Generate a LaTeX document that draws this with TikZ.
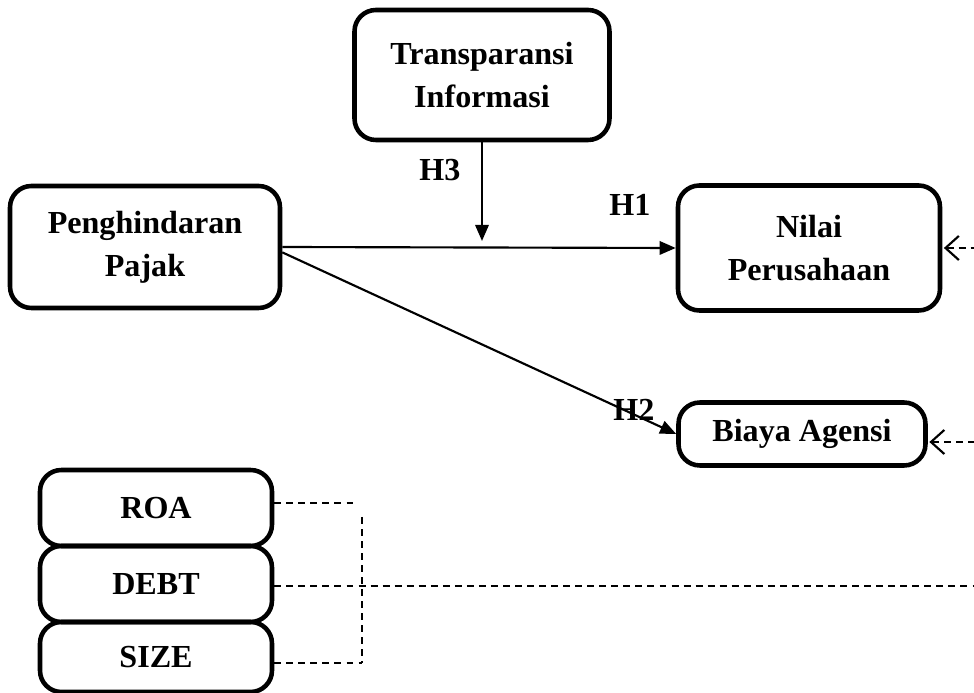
\documentclass[tikz,border=0pt]{standalone}
\usepackage{fontspec}
\setmainfont{Liberation Serif}
\usetikzlibrary{positioning, arrows.meta}

\begin{document}
\begin{tikzpicture}[
    x=0.01314cm, y=-0.01314cm,
    varbox/.style={
        draw,
        line width=1.7pt,
        rounded corners=8pt,
        font=\bfseries\fontsize{12}{16}\selectfont,
        align=center,
        minimum width=#1
    },
    varbox/.default=100,
    hlbl/.style={font=\bfseries\fontsize{12}{14}\selectfont, inner sep=1pt},
    path/.style={-{Triangle[length=6pt, width=5pt]}, line width=0.8pt},
    ctrl/.style={dash pattern=on 2.6pt off 1.9pt, line width=0.7pt},
    barb/.style={{Straight Barb[length=5pt, width=9pt, line width=0.8pt]}-}
]
\useasboundingbox (0,0) rectangle (974,693);

% === Variables ===
\node[varbox, minimum width=255*0.01314cm, minimum height=130*0.01314cm] (ti) at (482,75) {Transparansi\\Informasi};
\node[varbox, minimum width=270*0.01314cm, minimum height=122*0.01314cm] (pp) at (145,247) {Penghindaran\\Pajak};
\node[varbox, minimum width=262*0.01314cm, minimum height=125*0.01314cm] (np) at (809,248) {Nilai\\Perusahaan};
\node[varbox, minimum width=247*0.01314cm, minimum height=63*0.01314cm] (ba) at (802,434) {Biaya Agensi};

% === Controls ===
\node[varbox, minimum width=232*0.01314cm, minimum height=76*0.01314cm] (roa) at (156,508) {ROA};
\node[varbox, minimum width=232*0.01314cm, minimum height=76*0.01314cm, below=-1.7pt of roa] (debt) {DEBT};
\node[varbox, minimum width=232*0.01314cm, minimum height=70*0.01314cm, below=-1.7pt of debt] (size) {SIZE};

% === Hypotheses ===
\coordinate (mod) at (482,241);
\draw[path] (pp.east) -- (np.west);
\draw[path] (ti.south) -- (mod);
\draw[path] ([yshift=-2pt]pp.east) -- (ba.west);
\node[hlbl] at (440,170) {H3};
\node[hlbl] at (630,205) {H1};
\node[hlbl] at (634,410) {H2};

% === Control links ===
\coordinate (jr) at (362,503);
\coordinate (js) at (362,663);
\coordinate (edge1) at (974,248);
\coordinate (edge2) at (974,442);
\coordinate (edge3) at (974,586);
\draw[ctrl] (roa.east |- jr) -- (355,503);
\draw[ctrl] (362,517) -- (js);
\draw[ctrl] (size.east |- js) -- (js);
\draw[ctrl] (debt.east |- edge3) -- (edge3);
\draw[ctrl, barb] ([xshift=0.6pt]np.east |- edge1) -- (edge1);
\draw[ctrl, barb] ([xshift=0.6pt]ba.east |- edge2) -- (edge2);

\end{tikzpicture}
\end{document}
